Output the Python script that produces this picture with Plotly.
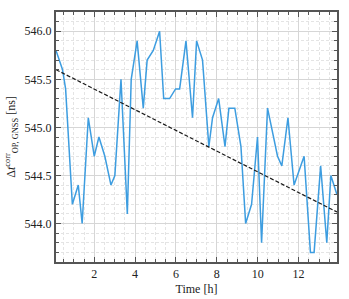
import plotly.graph_objects as go

time_h = [0.13, 0.45, 0.60, 0.93, 1.22, 1.41, 1.71, 2.00, 2.23, 2.52, 2.82, 3.01, 3.31, 3.62,
          3.81, 4.10, 4.40, 4.59, 4.89, 5.20, 5.40, 5.69, 5.98, 6.18, 6.49, 6.81, 7.01, 7.30,
          7.61, 7.79, 8.09, 8.40, 8.59, 8.88, 9.18, 9.41, 9.70, 9.99, 10.19, 10.48, 10.97,
          11.18, 11.48, 11.78, 12.27, 12.58, 12.76, 13.08, 13.38, 13.58, 13.88]
delta_t = [545.8, 545.6, 545.4, 544.2, 544.4, 544.0, 545.1, 544.7, 544.9, 544.7, 544.4, 544.5,
           545.5, 544.1, 545.5, 545.9, 545.2, 545.7, 545.8, 546.0, 545.3, 545.3, 545.4, 545.4,
           545.9, 545.1, 545.9, 545.7, 544.8, 545.1, 545.3, 544.8, 545.2, 545.2, 544.8, 544.0,
           544.2, 544.9, 543.8, 545.2, 544.7, 544.6, 545.1, 544.4, 544.7, 543.7, 543.7, 544.6,
           543.8, 544.5, 544.3]
trend_time = [0.13, 13.88]
trend_values = [545.60, 544.12]

font_family = "Liberation Serif"

fig = go.Figure()
fig.add_trace(go.Scatter(x=time_h, y=delta_t, mode="lines",
                         line=dict(color="#3d9de0", width=1.5), showlegend=False))
fig.add_trace(go.Scatter(x=trend_time, y=trend_values, mode="lines",
                         line=dict(color="#1a1a1a", width=1.2, dash="4px,2px"), showlegend=False))

axis_common = dict(
    showline=True, linecolor="#555555", linewidth=2, mirror="allticks",
    ticks="inside", ticklen=5, tickwidth=1, tickcolor="#555555",
    showgrid=True, gridcolor="#d6d6d6", gridwidth=1,
    zeroline=False, automargin=False,
    tickfont=dict(family=font_family, size=12, color="#222222"),
)

fig.update_layout(
    width=349, height=299,
    margin=dict(l=56, r=12, t=12, b=37),
    paper_bgcolor="white", plot_bgcolor="white",
    font=dict(family=font_family, size=12, color="#222222"),
    xaxis=dict(
        range=[0.13, 13.88], tick0=0, dtick=2,
        minor=dict(dtick=0.5, tick0=0, showgrid=True, gridcolor="#e4e4e4", griddash="3px,2px",
                   ticks="inside", ticklen=3, tickcolor="#555555"),
        title=dict(text="Time [h]", font=dict(family=font_family, size=12), standoff=4),
        **axis_common,
    ),
    yaxis=dict(
        range=[543.6, 546.2], tick0=544.0, dtick=0.5, tickformat=".1f",
        minor=dict(dtick=0.1, showgrid=True, gridcolor="#e4e4e4", griddash="3px,2px",
                   ticks="inside", ticklen=3, tickcolor="#555555"),
        title=dict(text="Δ<i>t</i><sup>corr</sup><sub>OP, GNSS</sub> [ns]",
                   font=dict(family=font_family, size=12), standoff=6),
        **axis_common,
    ),
)

fig.write_html("out.html", config={"displayModeBar": False},
               post_script="document.body.style.margin='0';")
